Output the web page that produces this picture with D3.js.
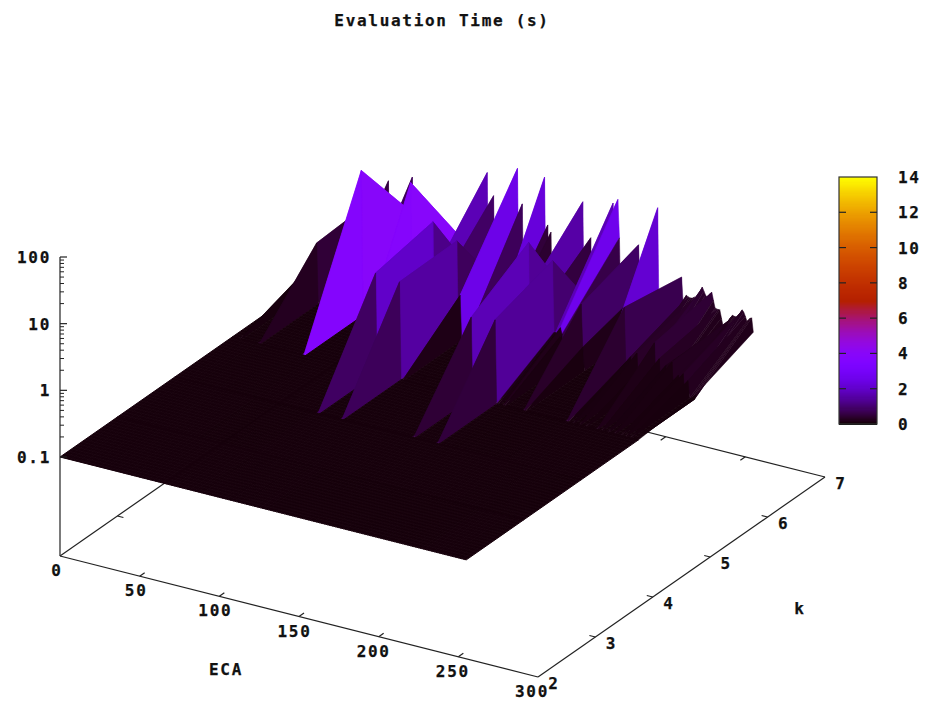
<!DOCTYPE html>
<html lang="en">
<head>
<meta charset="UTF-8">
<script src="https://d3js.org/d3.v7.min.js"></script>
<title>Evaluation Time (s)</title>
<style>
body { margin: 0; background: #fff; }
text { font-family: "DejaVu Sans Mono", monospace; font-weight: bold; font-size: 16px; letter-spacing: 1.7px; fill: #111; stroke: #111; stroke-width: 0.25px; }
</style>
</head>
<body>
<script>
// axes
const ecaTicks = [0, 50, 100, 150, 200, 250, 300];
const kTicks = [2, 3, 4, 5, 6, 7];
const zTicks = [0.1, 1, 10, 100];
const cbTicks = [0, 2, 4, 6, 8, 10, 12, 14];

// the rule numbers on the grid, and the value of the flat part
const rules = d3.range(0, 256);
const floorValue = 0.1;

// measured times that stand out from the floor, [rule, seconds], one list per k
const timesK2 = [];
const timesK3 = [];
const timesK4 = [];
const timesK5 = [[90, 3.2], [105, 2.9], [150, 1.6], [165, 1.8]];
const timesK6 = [[5, 0.2], [17, 0.82], [45, 14.8], [76, 15], [88, 0.6], [90, 4.7], [92, 0.4], [105, 3], [107, 0.47], [148, 0.8], [150, 5.3], [153, 0.4], [165, 3.5], [166, 0.3], [167, 0.3], [170, 0.37], [171, 0.3], [183, 1], [184, 0.23], [210, 1.3], [211, 0.2], [214, 0.25], [218, 0.3], [222, 0.2], [229, 0.5], [232, 0.3], [236, 0.25], [240, 0.3], [244, 0.2], [247, 0.22], [250, 0.18], [255, 0.12]];
const timesK7 = [[5, 0.35], [17, 0.93], [26, 2], [41, 2.8], [45, 0.72], [76, 0.43], [88, 6.3], [92, 3], [107, 9.5], [110, 2.9], [124, 8.9], [126, 1.75], [128, 1.4], [148, 5.3], [153, 1.64], [167, 6.6], [170, 7.8], [171, 2.1], [183, 1.95], [184, 0.4], [195, 8.3], [210, 0.93],
    [211, 0.37], [212, 0.45], [213, 0.52], [214, 0.5], [215, 0.49], [216, 0.49], [217, 0.5], [218, 0.52], [219, 0.5], [220, 0.52], [221, 0.6], [222, 0.7], [223, 0.79], [224, 0.7], [225, 0.62],
    [226, 0.58], [227, 0.62], [228, 0.68], [229, 0.72], [230, 0.55], [231, 0.43], [232, 0.42], [233, 0.42], [234, 0.42], [235, 0.32], [236, 0.25], [237, 0.25], [238, 0.26], [239, 0.29], [240, 0.32],
    [241, 0.36], [242, 0.39], [243, 0.38], [244, 0.38], [245, 0.38], [246, 0.42], [247, 0.46], [248, 0.51], [249, 0.48], [250, 0.42], [251, 0.36], [252, 0.38], [253, 0.41], [254, 0.42], [255, 0.26]];
const timesByK = [timesK2, timesK3, timesK4, timesK5, timesK6, timesK7];

const width = 927, height = 702;

const svg = d3.select('body').append('svg')
    .attr('width', width)
    .attr('height', height);

// box geometry: the three scales give the screen offset along each axis
const ecaX = d3.scaleLinear().domain([0, 300]).range([0, 478]);
const ecaY = d3.scaleLinear().domain([0, 300]).range([0, 121]);
const kX = d3.scaleLinear().domain([2, 7]).range([0, 287]);
const kY = d3.scaleLinear().domain([2, 7]).range([0, -200]);
const zY = d3.scaleLog().domain([0.1, 100]).range([457, 257]);
const baseX = 60, baseY = 556;

const px = (e, k) => baseX + ecaX(e) + kX(k);
const py = (e, k, z) => zY(z) + ecaY(e) + kY(k);
const floorY = (e, k) => baseY + ecaY(e) + kY(k);

// gnuplot palette rgbformulae 7,5,15
const palette = t => d3.rgb(
    255 * Math.sqrt(t),
    255 * t * t * t,
    255 * Math.max(0, Math.sin(2 * Math.PI * t)));
const cbColor = d3.scaleLinear().domain([0, 14]).range([0, 1]).clamp(true);

// border lines behind the surface
const line = (x1, y1, x2, y2, sw) => svg.append('line')
    .attr('x1', x1).attr('y1', y1).attr('x2', x2).attr('y2', y2)
    .attr('stroke', '#222').attr('stroke-width', sw || 1.2);

line(px(0, 2), floorY(0, 2), px(0, 7), floorY(0, 7));
line(px(0, 7), floorY(0, 7), px(300, 7), floorY(300, 7));
line(px(0, 2), floorY(0, 2), px(300, 2), floorY(300, 2));
line(px(300, 2), floorY(300, 2), px(300, 7), floorY(300, 7));

ecaTicks.slice(1, -1).forEach(e => {
    line(px(e, 2), floorY(e, 2), px(e, 2) + 5, floorY(e, 2) - 3.5);
    line(px(e, 7), floorY(e, 7), px(e, 7) - 5, floorY(e, 7) + 3.5);
});
kTicks.slice(1, -1).forEach(k => {
    line(px(300, k), floorY(300, k), px(300, k) - 6, floorY(300, k) - 1.5);
    line(px(0, k), floorY(0, k), px(0, k) + 6, floorY(0, k) + 1.5);
});

// z matrix
const zAt = timesByK.map(list => {
    const row = new Map(list);
    return rules.map(r => row.has(r) ? row.get(r) : floorValue);
});

// quads, painted from the back row to the front and low rule to high
const quads = [];
for (let j = kTicks.length - 2; j >= 0; j--) {
    for (let i = 0; i < rules.length - 1; i++) {
        const corners = [[i, j], [i + 1, j], [i + 1, j + 1], [i, j + 1]];
        quads.push({
            pts: corners.map(c => [px(rules[c[0]], kTicks[c[1]]), py(rules[c[0]], kTicks[c[1]], zAt[c[1]][c[0]])]),
            mean: d3.mean(corners, c => zAt[c[1]][c[0]])
        });
    }
}

svg.append('g').selectAll('path')
    .data(quads)
    .join('path')
    .attr('d', d => 'M' + d.pts.join('L') + 'Z')
    .attr('fill', d => palette(cbColor(d.mean)))
    .attr('stroke', d => palette(cbColor(d.mean)))
    .attr('stroke-width', d => d.mean === floorValue ? 1 : 0.5);

// z axis
line(baseX, baseY, baseX, zY(100));
zTicks.forEach(z => {
    line(baseX, zY(z), baseX + 7, zY(z));
    svg.append('text').attr('x', 51).attr('y', zY(z) + 6).attr('text-anchor', 'end').text(z);
});
zTicks.slice(0, -1).forEach(z => {
    d3.range(2, 10).forEach(m => line(baseX, zY(z * m), baseX + 4, zY(z * m), 1));
});

// axis labels
const ecaLabelShift = d3.scaleLinear().domain([0, 300]).range([-3, -6]);
ecaTicks.forEach(e => svg.append('text')
    .attr('x', px(e, 2) + ecaLabelShift(e)).attr('y', floorY(e, 2) + 20)
    .attr('text-anchor', 'middle').text(e));
kTicks.forEach(k => svg.append('text')
    .attr('x', px(300, k) + 16).attr('y', floorY(300, k) + 12)
    .attr('text-anchor', 'middle').text(k));

svg.append('text').attr('x', 442).attr('y', 26).attr('text-anchor', 'middle').text('Evaluation Time (s)');
svg.append('text').attr('x', 226).attr('y', 675).attr('text-anchor', 'middle').text('ECA');
svg.append('text').attr('x', 800).attr('y', 614).attr('text-anchor', 'middle').text('k');

// colour box
const cbY = d3.scaleLinear().domain([0, 14]).range([424, 177]);
const cbRows = d3.range(0, 14, 0.0625);
svg.append('g').attr('shape-rendering', 'crispEdges').selectAll('rect')
    .data(cbRows)
    .join('rect')
    .attr('x', 839).attr('width', 38)
    .attr('y', d => cbY(d + 0.0625))
    .attr('height', d => cbY(d) - cbY(d + 0.0625) + 1)
    .attr('fill', d => palette(cbColor(d)));
svg.append('rect').attr('x', 839).attr('y', 177).attr('width', 38).attr('height', 247)
    .attr('fill', 'none').attr('stroke', '#333').attr('stroke-width', 1.2);
cbTicks.forEach(v => {
    if (v > 0 && v < 14) {
        line(839, cbY(v), 846, cbY(v));
        line(870, cbY(v), 877, cbY(v));
    }
    svg.append('text').attr('x', 898).attr('y', cbY(v) + 6).text(v);
});
</script>
</body>
</html>
